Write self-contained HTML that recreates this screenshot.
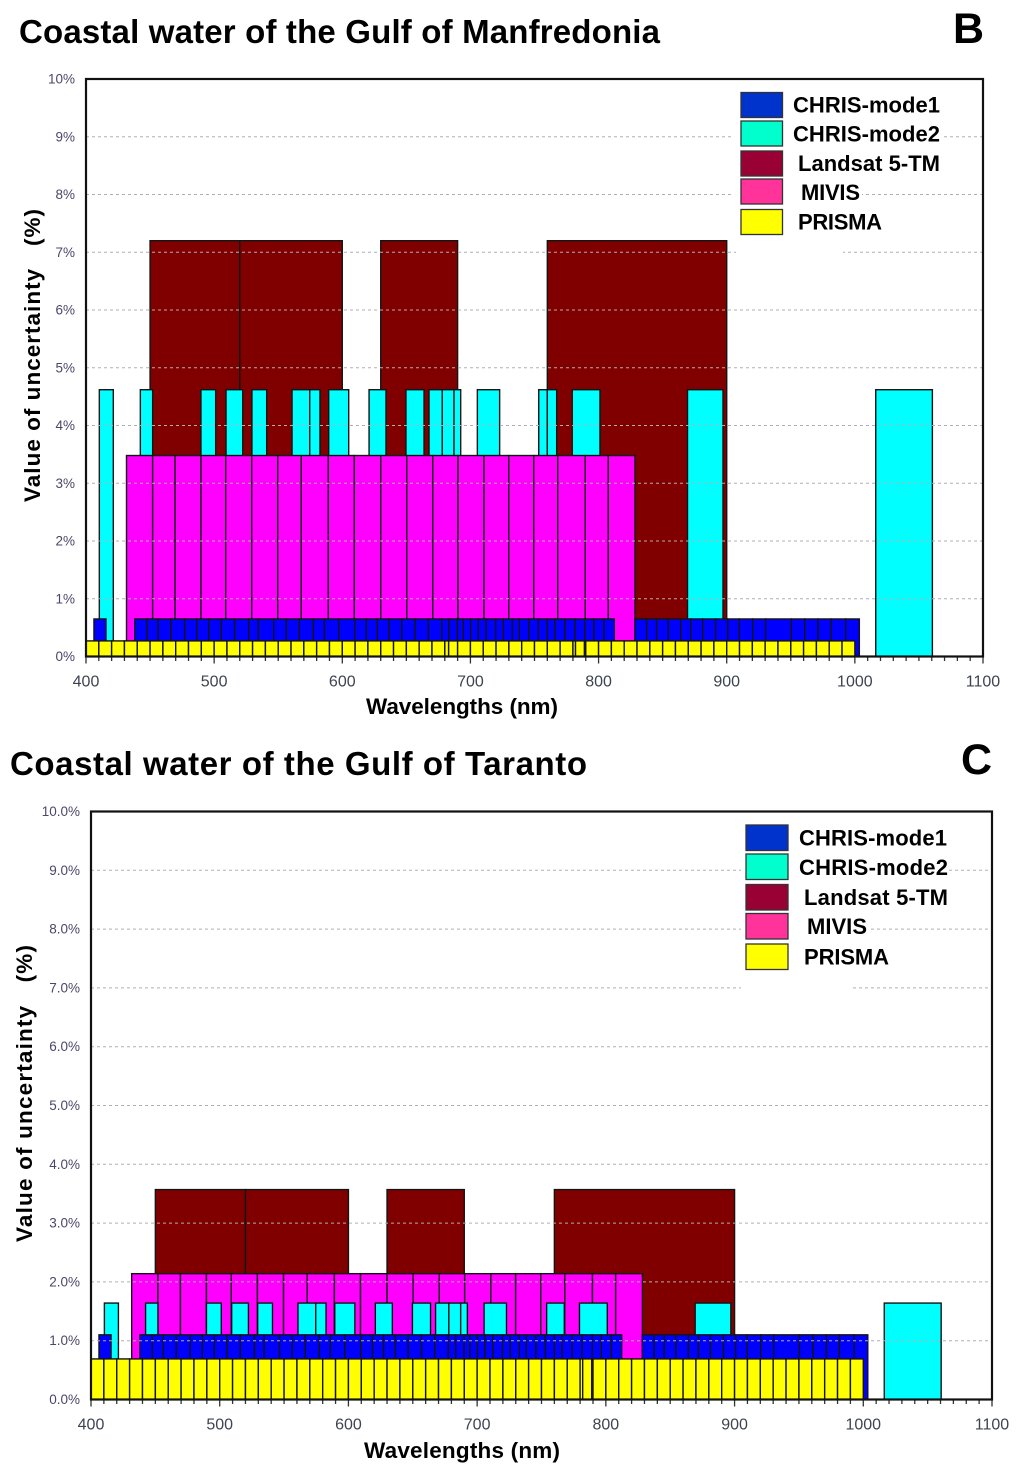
<!DOCTYPE html>
<html lang="en">
<head>
<meta charset="utf-8">
<title>Value of uncertainty by wavelength</title>
<style>
html,body{margin:0;padding:0;background:#fff}
svg{display:block}
text{font-family:"Liberation Sans",Arial,sans-serif;fill:#000}
.title{font-size:33px;font-weight:bold}
.letter{font-size:43px;font-weight:bold}
.legend-text{font-size:22px;font-weight:bold}
.axis-title{font-size:22.5px;font-weight:bold}
.x-tick-label{font-size:16px;fill:#3d4450}
.y-tick-label{font-size:13.5px;fill:#4d4668}
</style>
</head>
<body>
<svg id="figure" xmlns="http://www.w3.org/2000/svg" width="1024" height="1474" viewBox="0 0 1024 1474">
  <rect x="0" y="0" width="1024" height="1474" fill="#fff"/>

  <text class="title" x="19" y="43" textLength="641">Coastal water of the Gulf of Manfredonia</text>
  <text class="letter" x="953" y="43">B</text>
  <text class="axis-title" x="366" y="714" textLength="192">Wavelengths (nm)</text>
  <text class="axis-title" transform="translate(40,502) rotate(-90)" x="0" y="0" textLength="293">Value of uncertainty&#160;&#160;&#160;(%)</text>

  <text class="title" x="10" y="775" textLength="577">Coastal water of the Gulf of Taranto</text>
  <text class="letter" x="961" y="774">C</text>
  <text class="axis-title" x="364" y="1458" textLength="196">Wavelengths (nm)</text>
  <text class="axis-title" transform="translate(32,1242) rotate(-90)" x="0" y="0" textLength="297">Value of uncertainty&#160;&#160;&#160;(%)</text>

  <g id="chart-b"></g>
  <g id="chart-c"></g>

  <g>
    <rect x="731" y="128" width="210" height="18" fill="#fff"/>
    <rect x="731" y="187" width="131" height="18" fill="#fff"/>
    <rect x="736" y="245" width="107" height="16" fill="#fff"/>
    <rect x="741" y="92.5" width="41.5" height="25" fill="#0033cc" stroke="#333" stroke-width="1.3"/>
    <text class="legend-text" x="793" y="112.5" textLength="147">CHRIS-mode1</text>
    <rect x="741" y="121" width="41.5" height="25" fill="#00ffcc" stroke="#333" stroke-width="1.3"/>
    <text class="legend-text" x="793" y="141.5" textLength="147">CHRIS-mode2</text>
    <rect x="741" y="151" width="41.5" height="25" fill="#990033" stroke="#333" stroke-width="1.3"/>
    <text class="legend-text" x="798" y="171" textLength="142">Landsat 5-TM</text>
    <rect x="741" y="179" width="41.5" height="25" fill="#ff3399" stroke="#333" stroke-width="1.3"/>
    <text class="legend-text" x="801" y="200" textLength="59">MIVIS</text>
    <rect x="741" y="209.5" width="41.5" height="25" fill="#ffff00" stroke="#333" stroke-width="1.3"/>
    <text class="legend-text" x="798" y="229.5" textLength="84">PRISMA</text>
  </g>

  <g>
    <rect x="741" y="860" width="207" height="18" fill="#fff"/>
    <rect x="741" y="920" width="127" height="18" fill="#fff"/>
    <rect x="741" y="980" width="109" height="16" fill="#fff"/>
    <rect x="746" y="825" width="42" height="25.5" fill="#0033cc" stroke="#333" stroke-width="1.3"/>
    <text class="legend-text" x="799" y="845.5" textLength="148">CHRIS-mode1</text>
    <rect x="746" y="854" width="42" height="25.5" fill="#00ffcc" stroke="#333" stroke-width="1.3"/>
    <text class="legend-text" x="799" y="875" textLength="149">CHRIS-mode2</text>
    <rect x="746" y="884.5" width="42" height="25.5" fill="#990033" stroke="#333" stroke-width="1.3"/>
    <text class="legend-text" x="804" y="905" textLength="144">Landsat 5-TM</text>
    <rect x="746" y="913.5" width="42" height="25.5" fill="#ff3399" stroke="#333" stroke-width="1.3"/>
    <text class="legend-text" x="807" y="934" textLength="60">MIVIS</text>
    <rect x="746" y="944" width="42" height="25.5" fill="#ffff00" stroke="#333" stroke-width="1.3"/>
    <text class="legend-text" x="804" y="964.5" textLength="85">PRISMA</text>
  </g>
</svg>
<script>
// Uncertainty (%) per sensor, in the order [CHRIS-mode1, CHRIS-mode2, Landsat, MIVIS, PRISMA]
const seriesNames = ['chris-mode1', 'chris-mode2', 'landsat', 'mivis', 'prisma'];
const uncertaintyB = [0.65, 4.62, 7.2, 3.48, 0.27];
const uncertaintyC = [1.1, 1.64, 3.57, 2.14, 0.69];

// Band edges in nm; each inner list is a run of adjacent bands
const chris1Bands = [
  [406.2, 415.6],
  [438, 447.6, 456.2, 466.3, 477, 486.4, 495.8, 505.6, 516, 527, 534.5, 546.5, 556.3, 566.5, 577.4, 586, 597.2, 609.7, 618.7, 627.3, 636.5, 646.4, 656.8, 667.1, 677.6, 683.3, 689.8, 694.4, 700.2, 706.1, 712.2, 719.7, 725.7, 732.7, 738.1, 745.7, 753, 760, 766, 773.8, 781.6, 789.4, 796.4, 804.2, 812.3],
  [828.3, 837.5, 845.3, 854.4, 864.1, 871.9, 881.3, 891.4, 900.8, 909.8, 920.3, 930.4, 950.4, 960.9, 971.3, 981.4, 992.9, 1003.5]
];
const chris2BandsB = [
  [410.4, 421.3], [442.4, 452], [489.7, 501.2], [509.3, 522.3], [529.5, 541],
  [560.8, 574.6, 582.6], [589.4, 605], [620.9, 634.1], [649.7, 663.8],
  [667.7, 678, 687.2, 692.4], [705.4, 722.8], [753.3, 760, 767.3], [779.5, 801.1],
  [869.4, 897.1], [1016.3, 1060.5]
];
const chris2BandsC = [
  [410.4, 421.3], [442.4, 452], [489.7, 501.2], [509.3, 522.3], [529.5, 541],
  [560.8, 574.6, 582.6], [589.4, 605], [620.9, 634.1], [649.7, 663.8],
  [667.7, 678, 687.2, 692.4], [705.4, 722.8], [754, 767.7], [779.5, 801.1],
  [869.4, 897.1], [1016.3, 1060.5]
];
const landsatBands = [[450, 520, 600], [630, 690], [760, 900]];
const mivisBands = [[431.6, 452, 469.5, 489.7, 509, 529.3, 549.6, 568, 589.1, 609.4, 630, 650.3, 670.6, 690.3, 710.6, 729.9, 749.4, 768.1, 789.6, 807.6, 828.4]];
const prismaBandsB = [[400, 410, 420, 430, 440, 450, 460, 470, 480, 490, 500, 510, 520, 530, 540, 550, 560, 570, 580, 590, 600, 610, 620, 630, 640, 650, 660, 670, 680, 683, 690, 700, 710, 720, 730, 740, 750, 760, 770, 780, 782, 789, 790, 800, 810, 820, 830, 840, 850, 860, 870, 880, 890, 900, 910, 920, 930, 940, 950, 960, 970, 980, 990, 1000]];
const prismaBandsC = [[400, 410, 420, 430, 440, 450, 460, 470, 480, 490, 500, 510, 520, 530, 540, 550, 560, 570, 580, 590, 600, 610, 620, 630, 640, 650, 660, 670, 680, 690, 700, 710, 720, 730, 740, 750, 760, 770, 780, 782, 789, 790, 800, 810, 820, 830, 840, 850, 860, 870, 880, 890, 900, 910, 920, 930, 940, 950, 960, 970, 980, 990, 1000]];

// Tick labels
const xTickValues = [400, 500, 600, 700, 800, 900, 1000, 1100];
const xTickLabels = ['400', '500', '600', '700', '800', '900', '1000', '1100'];
const yTickValues = [0, 1, 2, 3, 4, 5, 6, 7, 8, 9, 10];
const yTickLabelsB = ['0%', '1%', '2%', '3%', '4%', '5%', '6%', '7%', '8%', '9%', '10%'];
const yTickLabelsC = ['0.0%', '1.0%', '2.0%', '3.0%', '4.0%', '5.0%', '6.0%', '7.0%', '8.0%', '9.0%', '10.0%'];

const SVG_NS = 'http://www.w3.org/2000/svg';
const seriesFill = { 'chris-mode1': '#0000ff', 'chris-mode2': '#00ffff', 'landsat': '#800000', 'mivis': '#ff00ff', 'prisma': '#ffff00' };

function drawChart(root, frame, bands, order, values, yLabels) {
  const xScale = nm => frame.left + (nm - 400) * (frame.right - frame.left) / 700;
  const yScale = pct => frame.bottom - pct * (frame.bottom - frame.top) / 10;

  order.forEach(name => {
    const seriesIndex = seriesNames.indexOf(name);
    const top = yScale(values[seriesIndex]);
    const group = document.createElementNS(SVG_NS, 'g');
    
    
    root.appendChild(group);
    bands[name].forEach(run => {
      for (let i = 0; i + 1 < run.length; i++) {
        const bar = document.createElementNS(SVG_NS, 'rect');
        
        
        bar.setAttribute('x', xScale(run[i]));
        bar.setAttribute('y', top);
        bar.setAttribute('width', xScale(run[i + 1]) - xScale(run[i]));
        bar.setAttribute('height', frame.bottom - top);
        bar.setAttribute('fill', seriesFill[name]);
        bar.setAttribute('stroke', '#141414');
        bar.setAttribute('stroke-width', '1.4');
        group.appendChild(bar);
      }
    });
  });

  yTickValues.forEach((value, i) => {
    const y = yScale(value);
    if (value > 0 && value < 10) {
      const grid = document.createElementNS(SVG_NS, 'line');
      
      
      grid.setAttribute('x1', frame.left);
      grid.setAttribute('x2', frame.right);
      grid.setAttribute('y1', y);
      grid.setAttribute('y2', y);
      grid.setAttribute('stroke', '#b0b0b0');
      grid.setAttribute('stroke-width', '1');
      grid.setAttribute('stroke-dasharray', '3 3');
      root.appendChild(grid);
    }
    const label = document.createElementNS(SVG_NS, 'text');
    
    
    label.setAttribute('class', 'y-tick-label');
    label.setAttribute('x', frame.left - 11);
    label.setAttribute('y', y + 4.5);
    label.setAttribute('text-anchor', 'end');
    label.textContent = yLabels[i];
    root.appendChild(label);
  });

  for (let nm = 400; nm <= 1100; nm += 10) {
    const tick = document.createElementNS(SVG_NS, 'line');
    
    
    tick.setAttribute('x1', xScale(nm));
    tick.setAttribute('x2', xScale(nm));
    tick.setAttribute('y1', frame.bottom);
    tick.setAttribute('y2', frame.bottom + (nm % 100 === 0 ? 7 : 4.5));
    tick.setAttribute('stroke', '#333');
    tick.setAttribute('stroke-width', '1.3');
    root.appendChild(tick);
  }

  xTickValues.forEach((value, i) => {
    const label = document.createElementNS(SVG_NS, 'text');
    
    
    label.setAttribute('class', 'x-tick-label');
    label.setAttribute('x', xScale(value));
    label.setAttribute('y', frame.bottom + 30);
    label.setAttribute('text-anchor', 'middle');
    label.textContent = xTickLabels[i];
    root.appendChild(label);
  });

  const border = document.createElementNS(SVG_NS, 'rect');
  
  
  border.setAttribute('x', frame.left);
  border.setAttribute('y', frame.top);
  border.setAttribute('width', frame.right - frame.left);
  border.setAttribute('height', frame.bottom - frame.top);
  border.setAttribute('fill', 'none');
  border.setAttribute('stroke', '#111');
  border.setAttribute('stroke-width', '2.2');
  root.appendChild(border);
}

drawChart(
  document.getElementById('chart-b'),
  { left: 86, right: 983, top: 79, bottom: 656.5 },
  { 'chris-mode1': chris1Bands, 'chris-mode2': chris2BandsB, 'landsat': landsatBands, 'mivis': mivisBands, 'prisma': prismaBandsB },
  ['landsat', 'chris-mode2', 'mivis', 'chris-mode1', 'prisma'],
  uncertaintyB,
  yTickLabelsB
);
drawChart(
  document.getElementById('chart-c'),
  { left: 91, right: 992, top: 811.5, bottom: 1399.5 },
  { 'chris-mode1': chris1Bands, 'chris-mode2': chris2BandsC, 'landsat': landsatBands, 'mivis': mivisBands, 'prisma': prismaBandsC },
  ['landsat', 'mivis', 'chris-mode2', 'chris-mode1', 'prisma'],
  uncertaintyC,
  yTickLabelsC
);
</script>
</body>
</html>
